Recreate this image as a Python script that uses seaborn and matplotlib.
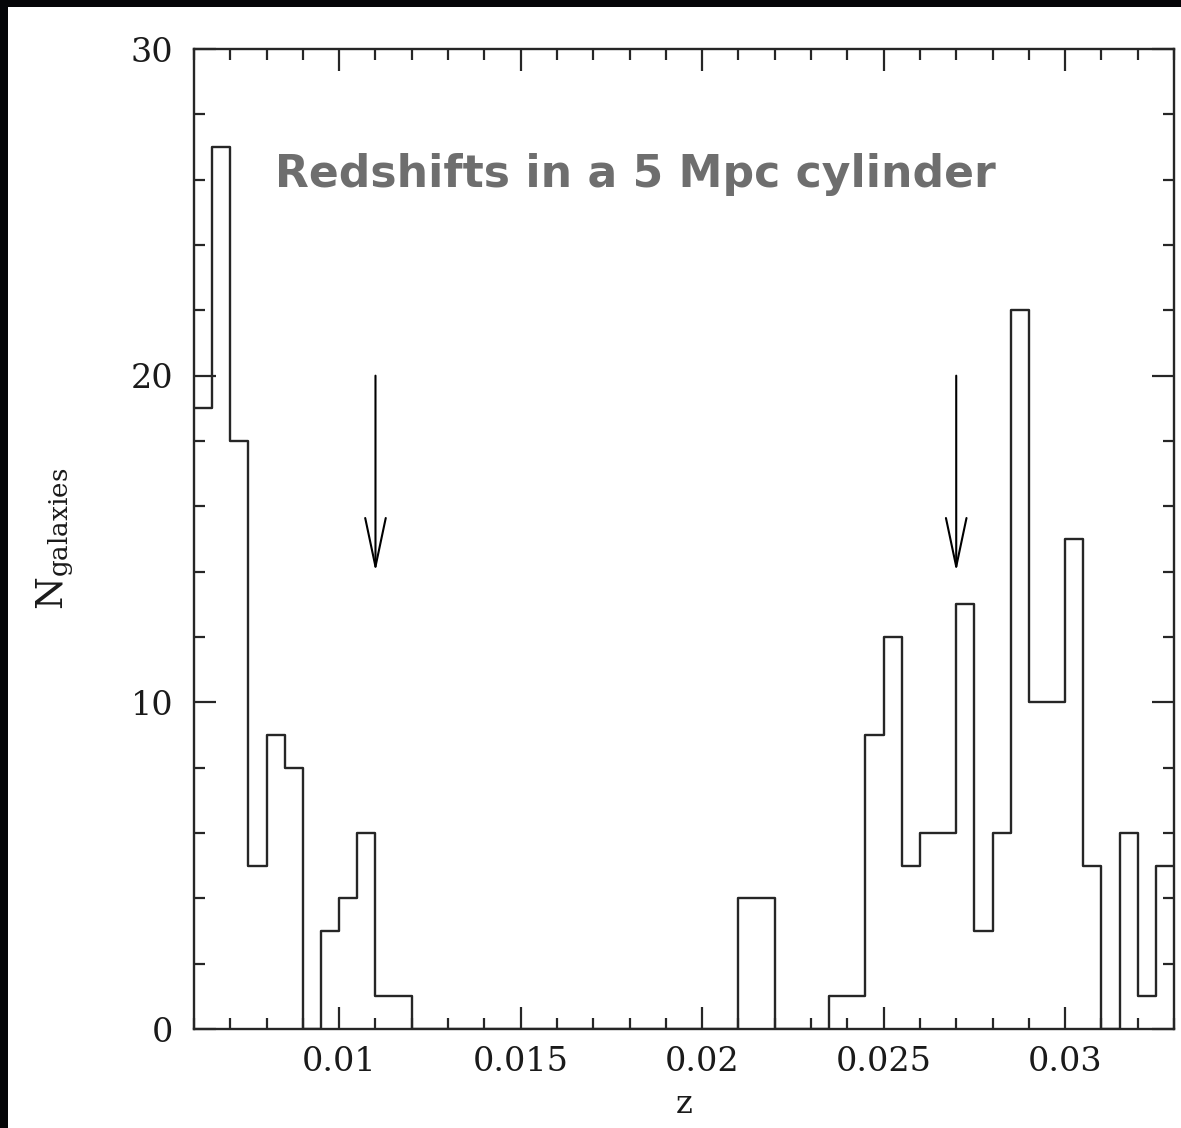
import numpy as np
import pandas as pd
import matplotlib
matplotlib.use("Agg")
import matplotlib.pyplot as plt
import seaborn as sns

# Redshift histogram: counts per bin of width 0.0005, starting at z = 0.006
z_lo = 0.006
z_hi = 0.033
bin_width = 0.0005
counts = [19, 27, 18, 5, 9, 8, 0, 3, 4, 6,
          1, 1, 0, 0, 0, 0, 0, 0, 0, 0,
          0, 0, 0, 0, 0, 0, 0, 0, 0, 0,
          4, 4, 0, 0, 0, 1, 1, 9, 12, 5,
          6, 6, 13, 3, 6, 22, 10, 10, 15, 5,
          0, 6, 1, 5]

# Marked redshifts (arrows from N=20 down to N=14)
arrow_z = [0.011, 0.027]
arrow_from = 20
arrow_to = 14

title_text = "Redshifts in a 5 Mpc cylinder"
x_ticks = [0.01, 0.015, 0.02, 0.025, 0.03]
x_tick_labels = ["0.01", "0.015", "0.02", "0.025", "0.03"]
y_ticks = [0, 10, 20, 30]

edges = [z_lo + bin_width * i for i in range(len(counts) + 1)]
df = pd.DataFrame({"z": [e + bin_width / 2 for e in edges[:-1]],
                   "n": counts})

sns.set_style("ticks")
plt.rcParams["font.family"] = ["DejaVu Serif"]
plt.rcParams["mathtext.fontset"] = "dejavuserif"

W, H = 1181, 1128
fig = plt.figure(figsize=(W / 100, H / 100), dpi=100, facecolor="#050608")
# white panel inside the dark frame
panel = plt.Rectangle((8 / W, 0), 1 - 8 / W, 1 - 7 / H,
                      transform=fig.transFigure, facecolor="white",
                      edgecolor="none", zorder=-10)
fig.add_artist(panel)

ax = fig.add_axes([194 / W, 99 / H, (1174 - 194) / W, (1079 - 99) / H])
ax.set_facecolor("white")

line_col = "#262626"
sns.histplot(data=df, x="z", weights="n", bins=edges, element="step", fill=False,
             color=line_col, linewidth=1.7, ax=ax)

for z in arrow_z:
    ax.annotate("", xy=(z, arrow_to), xytext=(z, arrow_from),
                arrowprops=dict(arrowstyle="->,head_length=1.75,head_width=0.37",
                                lw=1.5, color="black", shrinkA=0, shrinkB=0,
                                mutation_scale=20))

ax.set_xlim(z_lo, z_hi)
ax.set_ylim(0, 30)
ax.set_xticks(x_ticks)
ax.set_xticklabels(x_tick_labels)
ax.set_yticks(y_ticks)
ax.xaxis.set_minor_locator(matplotlib.ticker.MultipleLocator(0.001))
ax.yaxis.set_minor_locator(matplotlib.ticker.MultipleLocator(2))

for s in ax.spines.values():
    s.set_visible(True)
    s.set_linewidth(1.7)
    s.set_color(line_col)

ax.tick_params(which="both", direction="in", top=True, right=True,
               color=line_col, width=1.6, labelcolor="#1a1a1a")
ax.tick_params(which="major", length=16)
ax.tick_params(which="minor", length=8)
ax.tick_params(axis="x", which="major", labelsize=24, pad=12)
ax.tick_params(axis="y", which="major", labelsize=24, pad=15)

ax.set_xlabel("z", fontsize=23, color="#1a1a1a", labelpad=8)
ax.set_ylabel(r"$\mathregular{N_{galaxies}}$", fontsize=27, color="#1a1a1a", labelpad=40)

ax.text(0.083, 0.859, title_text, transform=ax.transAxes, fontsize=31.8,
        fontweight="bold", family=["DejaVu Sans"], color="#6e6e6e",
        ha="left", va="baseline")

fig.savefig("out.png", dpi=100, facecolor=fig.get_facecolor())
